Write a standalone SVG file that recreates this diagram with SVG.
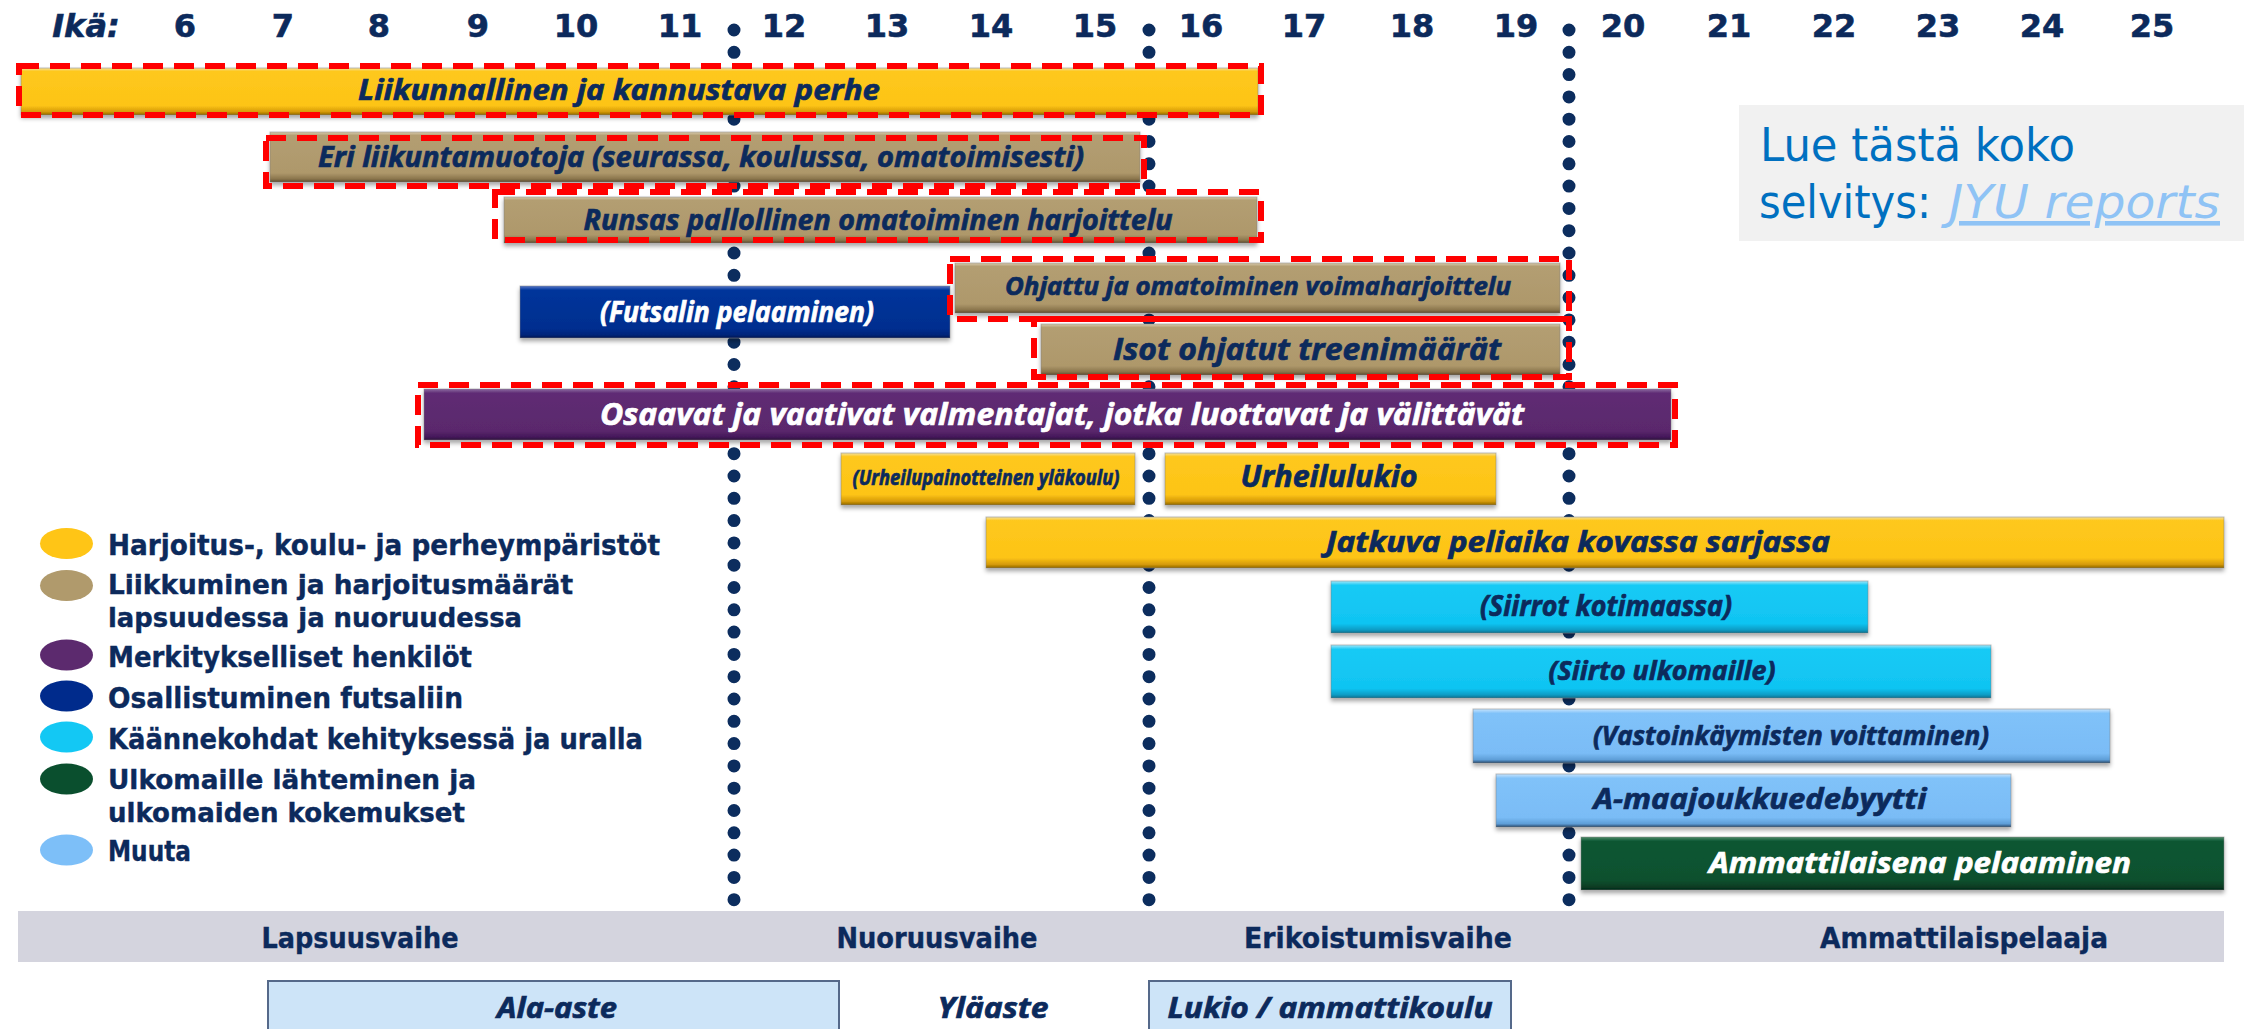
<svg xmlns="http://www.w3.org/2000/svg" width="2244" height="1029" viewBox="0 0 2244 1029">
<defs>
<linearGradient id="gY" x1="0" y1="0" x2="0" y2="1"><stop offset="0" stop-color="#f3e2a6"/><stop offset="0.07" stop-color="#fec81d"/><stop offset="0.8" stop-color="#fdc416"/><stop offset="0.93" stop-color="#d59a08"/><stop offset="1" stop-color="#8e6600"/></linearGradient>
<linearGradient id="gT" x1="0" y1="0" x2="0" y2="1"><stop offset="0" stop-color="#d8cbae"/><stop offset="0.07" stop-color="#b39e72"/><stop offset="0.82" stop-color="#ae986b"/><stop offset="0.94" stop-color="#8a754c"/><stop offset="1" stop-color="#5a4a2e"/></linearGradient>
<linearGradient id="gP" x1="0" y1="0" x2="0" y2="1"><stop offset="0" stop-color="#8d6aa3"/><stop offset="0.08" stop-color="#5f2c74"/><stop offset="0.82" stop-color="#5a286c"/><stop offset="0.94" stop-color="#45185a"/><stop offset="1" stop-color="#2d0d3b"/></linearGradient>
<linearGradient id="gB" x1="0" y1="0" x2="0" y2="1"><stop offset="0" stop-color="#5577c8"/><stop offset="0.08" stop-color="#03359b"/><stop offset="0.82" stop-color="#002e8f"/><stop offset="0.94" stop-color="#00247a"/><stop offset="1" stop-color="#001852"/></linearGradient>
<linearGradient id="gC" x1="0" y1="0" x2="0" y2="1"><stop offset="0" stop-color="#a4e8fb"/><stop offset="0.08" stop-color="#17caf5"/><stop offset="0.82" stop-color="#10c4f2"/><stop offset="0.94" stop-color="#0a9cc4"/><stop offset="1" stop-color="#066f8e"/></linearGradient>
<linearGradient id="gL" x1="0" y1="0" x2="0" y2="1"><stop offset="0" stop-color="#c8e4fd"/><stop offset="0.08" stop-color="#80c2f9"/><stop offset="0.82" stop-color="#7abcf6"/><stop offset="0.94" stop-color="#5e9ed7"/><stop offset="1" stop-color="#25466a"/></linearGradient>
<linearGradient id="gG" x1="0" y1="0" x2="0" y2="1"><stop offset="0" stop-color="#4f8c6c"/><stop offset="0.08" stop-color="#0c5733"/><stop offset="0.82" stop-color="#0a502e"/><stop offset="0.94" stop-color="#083d23"/><stop offset="1" stop-color="#042615"/></linearGradient>
<filter id="sh" x="-2%" y="-20%" width="104%" height="160%"><feDropShadow dx="0" dy="3" stdDeviation="2" flood-color="#000" flood-opacity="0.35"/></filter>
</defs>
<style>
.ax{font-family:"DejaVu Sans",sans-serif;font-weight:700;font-size:32px;fill:#0c2a5c;text-anchor:middle;stroke:#0c2a5c;stroke-width:0.6}
.ika{font-style:italic}
.lbl{font-family:"Open Sans","DejaVu Sans",sans-serif;font-weight:700;font-style:italic;fill:#0c2a5c;text-anchor:middle;stroke:#0c2a5c;stroke-width:0.7}
.w{fill:#ffffff;stroke:#ffffff}
.lg{font-family:"DejaVu Sans",sans-serif;font-weight:700;font-size:29px;fill:#0c2a5c;stroke:#0c2a5c;stroke-width:0.4}
.lg2{font-size:27px}
.ph{font-family:"DejaVu Sans",sans-serif;font-weight:700;font-size:29px;fill:#0c2a5c;text-anchor:middle;stroke:#0c2a5c;stroke-width:0.4}
.hl{fill:none;stroke:#ff0000;stroke-width:6;stroke-dasharray:20 11}
.dl{fill:none;stroke:#0c2d5e;stroke-width:13;stroke-linecap:round;stroke-dasharray:0 22.3}
.bar{filter:url(#sh);stroke:#808080;stroke-opacity:0.5;stroke-width:1}
.info{font-family:"DejaVu Sans",sans-serif;font-size:46px;fill:#0070c0}
.link{font-style:italic;fill:#8fc3f5;text-decoration:underline}
.school{fill:#cde4f8;stroke:#55698a;stroke-width:2}
</style>
<rect width="2244" height="1029" fill="#ffffff"/>

<g id="age-axis">
<text class="ax ika" x="86" y="37">Ikä:</text>
<text class="ax" x="185" y="37">6</text>
<text class="ax" x="283" y="37">7</text>
<text class="ax" x="379" y="37">8</text>
<text class="ax" x="478" y="37">9</text>
<text class="ax" x="576" y="37">10</text>
<text class="ax" x="680" y="37">11</text>
<text class="ax" x="784" y="37">12</text>
<text class="ax" x="887" y="37">13</text>
<text class="ax" x="991" y="37">14</text>
<text class="ax" x="1095" y="37">15</text>
<text class="ax" x="1201" y="37">16</text>
<text class="ax" x="1304" y="37">17</text>
<text class="ax" x="1412" y="37">18</text>
<text class="ax" x="1516" y="37">19</text>
<text class="ax" x="1623" y="37">20</text>
<text class="ax" x="1729" y="37">21</text>
<text class="ax" x="1834" y="37">22</text>
<text class="ax" x="1938" y="37">23</text>
<text class="ax" x="2042" y="37">24</text>
<text class="ax" x="2152" y="37">25</text>
</g>

<g id="phase-dividers">
<line class="dl" x1="734" y1="30" x2="734" y2="901"/>
<line class="dl" x1="1149" y1="30" x2="1149" y2="901"/>
<line class="dl" x1="1569" y1="30" x2="1569" y2="901"/>
</g>

<g id="info-box">
<rect x="1739" y="105" width="505" height="136" fill="#f1f1f1"/>
<text class="info" x="1760" y="161" textLength="315" lengthAdjust="spacingAndGlyphs">Lue tästä koko</text>
<text class="info" x="1759" y="218" textLength="172" lengthAdjust="spacingAndGlyphs">selvitys:</text>
<text class="info link" x="1949" y="218" textLength="271" lengthAdjust="spacingAndGlyphs">JYU reports</text>
</g>

<g id="bar-perhe"><rect class="bar" x="21" y="68" width="1237" height="47" fill="url(#gY)"/><text class="lbl" x="619" y="100" font-size="29" textLength="522" lengthAdjust="spacingAndGlyphs">Liikunnallinen ja kannustava perhe</text></g>
<g id="bar-liikuntamuodot"><rect class="bar" x="270" y="132" width="870" height="50" fill="url(#gT)"/><text class="lbl" x="701" y="167" font-size="28" textLength="766" lengthAdjust="spacingAndGlyphs">Eri liikuntamuotoja (seurassa, koulussa, omatoimisesti)</text></g>
<g id="bar-pallollinen"><rect class="bar" x="504" y="197" width="753" height="46" fill="url(#gT)"/><text class="lbl" x="878" y="230" font-size="29" textLength="589" lengthAdjust="spacingAndGlyphs">Runsas pallollinen omatoiminen harjoittelu</text></g>
<g id="bar-futsal"><rect class="bar" x="520" y="286" width="430" height="52" fill="url(#gB)"/><text class="lbl w" x="737" y="322" font-size="29" textLength="274" lengthAdjust="spacingAndGlyphs">(Futsalin pelaaminen)</text></g>
<g id="bar-voima"><rect class="bar" x="955" y="263" width="605" height="50" fill="url(#gT)"/><text class="lbl" x="1258" y="295" font-size="25" textLength="506" lengthAdjust="spacingAndGlyphs">Ohjattu ja omatoiminen voimaharjoittelu</text></g>
<g id="bar-treenimaarat"><rect class="bar" x="1041" y="324" width="519" height="51" fill="url(#gT)"/><text class="lbl" x="1307" y="360" font-size="30" textLength="388" lengthAdjust="spacingAndGlyphs">Isot ohjatut treenimäärät</text></g>
<g id="bar-valmentajat"><rect class="bar" x="424" y="389" width="1247" height="51" fill="url(#gP)"/><text class="lbl w" x="1062" y="425" font-size="31" textLength="924" lengthAdjust="spacingAndGlyphs">Osaavat ja vaativat valmentajat, jotka luottavat ja välittävät</text></g>
<g id="bar-ylakoulu"><rect class="bar" x="841" y="453" width="294" height="52" fill="url(#gY)"/><text class="lbl" x="986" y="485" font-size="22" textLength="267" lengthAdjust="spacingAndGlyphs">(Urheilupainotteinen yläkoulu)</text></g>
<g id="bar-urheilulukio"><rect class="bar" x="1165" y="453" width="331" height="52" fill="url(#gY)"/><text class="lbl" x="1329" y="487" font-size="30" textLength="177" lengthAdjust="spacingAndGlyphs">Urheilulukio</text></g>
<g id="bar-peliaika"><rect class="bar" x="986" y="517" width="1238" height="51" fill="url(#gY)"/><text class="lbl" x="1578" y="552" font-size="29" textLength="504" lengthAdjust="spacingAndGlyphs">Jatkuva peliaika kovassa sarjassa</text></g>
<g id="bar-siirrot"><rect class="bar" x="1331" y="581" width="537" height="52" fill="url(#gC)"/><text class="lbl" x="1606" y="616" font-size="28" textLength="252" lengthAdjust="spacingAndGlyphs">(Siirrot kotimaassa)</text></g>
<g id="bar-siirto"><rect class="bar" x="1331" y="645" width="660" height="53" fill="url(#gC)"/><text class="lbl" x="1662" y="680" font-size="27" textLength="227" lengthAdjust="spacingAndGlyphs">(Siirto ulkomaille)</text></g>
<g id="bar-vastoinkaymiset"><rect class="bar" x="1473" y="709" width="637" height="54" fill="url(#gL)"/><text class="lbl" x="1791" y="745" font-size="27" textLength="396" lengthAdjust="spacingAndGlyphs">(Vastoinkäymisten voittaminen)</text></g>
<g id="bar-maajoukkue"><rect class="bar" x="1496" y="774" width="515" height="53" fill="url(#gL)"/><text class="lbl" x="1760" y="809" font-size="29" textLength="333" lengthAdjust="spacingAndGlyphs">A-maajoukkuedebyytti</text></g>
<g id="bar-ammattilainen"><rect class="bar" x="1581" y="837" width="643" height="53" fill="url(#gG)"/><text class="lbl w" x="1920" y="873" font-size="29" textLength="422" lengthAdjust="spacingAndGlyphs">Ammattilaisena pelaaminen</text></g>

<g id="highlights">
<rect class="hl" x="19" y="66" width="1242" height="49"/>
<rect class="hl" x="266" y="138" width="878" height="48"/>
<rect class="hl" x="495" y="192" width="766" height="48"/>
<rect class="hl" x="950" y="259" width="619" height="60"/>
<rect class="hl" x="1034" y="319" width="535" height="58"/>
<rect class="hl" x="418" y="385" width="1257" height="60"/>
</g>

<g id="legend">
<g id="legend-yellow"><ellipse cx="66.5" cy="543.5" rx="26.5" ry="15.5" fill="#ffc516"/><text class="lg" x="108" y="555" textLength="552" lengthAdjust="spacingAndGlyphs">Harjoitus-, koulu- ja perheympäristöt</text></g>
<g id="legend-tan"><ellipse cx="66.5" cy="585.5" rx="26.5" ry="15.5" fill="#b09a6c"/><text class="lg lg2" x="108" y="594" textLength="465" lengthAdjust="spacingAndGlyphs">Liikkuminen ja harjoitusmäärät</text><text class="lg lg2" x="108" y="627" textLength="414" lengthAdjust="spacingAndGlyphs">lapsuudessa ja nuoruudessa</text></g>
<g id="legend-purple"><ellipse cx="66.5" cy="655" rx="26.5" ry="15.5" fill="#5c2a6e"/><text class="lg" x="108" y="667" textLength="364" lengthAdjust="spacingAndGlyphs">Merkitykselliset henkilöt</text></g>
<g id="legend-darkblue"><ellipse cx="66.5" cy="696" rx="26.5" ry="15.5" fill="#002b8c"/><text class="lg" x="108" y="708" textLength="355" lengthAdjust="spacingAndGlyphs">Osallistuminen futsaliin</text></g>
<g id="legend-cyan"><ellipse cx="66.5" cy="737" rx="26.5" ry="15.5" fill="#13c8f4"/><text class="lg" x="108" y="749" textLength="535" lengthAdjust="spacingAndGlyphs">Käännekohdat kehityksessä ja uralla</text></g>
<g id="legend-green"><ellipse cx="66.5" cy="779" rx="26.5" ry="15.5" fill="#0a4f2e"/><text class="lg lg2" x="108" y="789" textLength="368" lengthAdjust="spacingAndGlyphs">Ulkomaille lähteminen ja</text><text class="lg lg2" x="108" y="822" textLength="357" lengthAdjust="spacingAndGlyphs">ulkomaiden kokemukset</text></g>
<g id="legend-lightblue"><ellipse cx="66.5" cy="850" rx="26.5" ry="15.5" fill="#7dbff8"/><text class="lg" x="108" y="861" textLength="83" lengthAdjust="spacingAndGlyphs">Muuta</text></g>
</g>

<g id="phases">
<rect x="18" y="911" width="2206" height="51" fill="#d4d4de"/>
<text class="ph" x="360" y="948" textLength="197" lengthAdjust="spacingAndGlyphs">Lapsuusvaihe</text>
<text class="ph" x="937" y="948" textLength="201" lengthAdjust="spacingAndGlyphs">Nuoruusvaihe</text>
<text class="ph" x="1378" y="948" textLength="268" lengthAdjust="spacingAndGlyphs">Erikoistumisvaihe</text>
<text class="ph" x="1964" y="948" textLength="288" lengthAdjust="spacingAndGlyphs">Ammattilaispelaaja</text>
</g>

<g id="school-ala-aste"><rect class="school" x="268" y="981" width="571" height="60"/><text class="lbl" x="557" y="1018" font-size="29" textLength="120" lengthAdjust="spacingAndGlyphs">Ala-aste</text></g>
<g id="school-ylaaste"><text class="lbl" x="993" y="1018" font-size="29" textLength="111" lengthAdjust="spacingAndGlyphs">Yläaste</text></g>
<g id="school-lukio"><rect class="school" x="1149" y="981" width="362" height="60"/><text class="lbl" x="1330" y="1018" font-size="29" textLength="325" lengthAdjust="spacingAndGlyphs">Lukio / ammattikoulu</text></g>
</svg>
